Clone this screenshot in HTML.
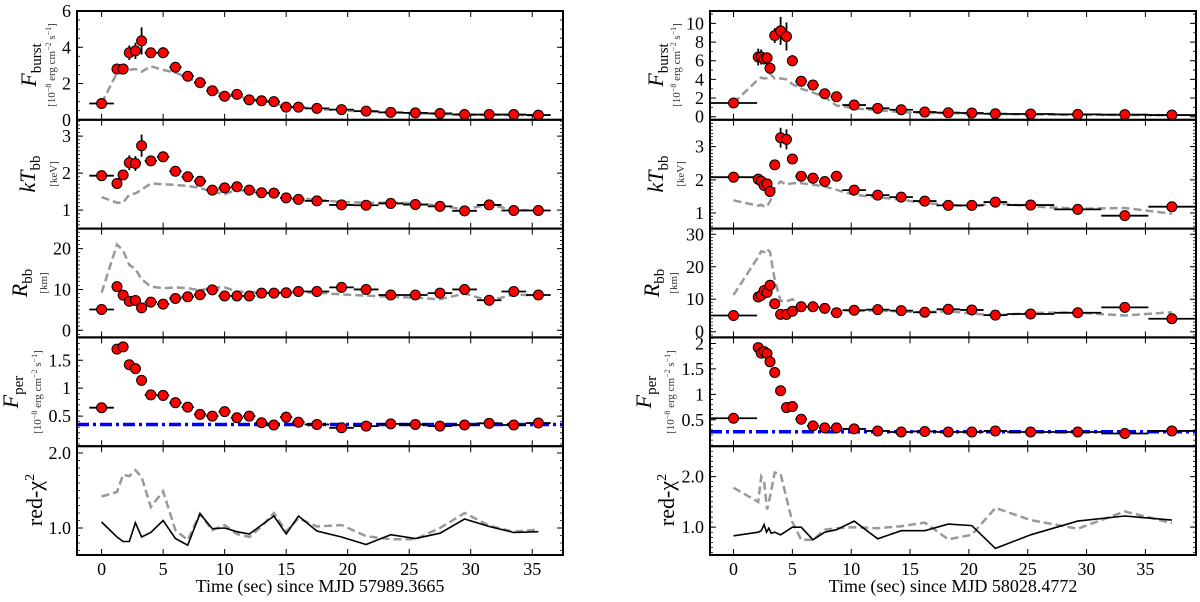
<!DOCTYPE html>
<html><head><meta charset="utf-8">
<style>
html,body{margin:0;padding:0;background:#fff;}
svg{display:block;font-family:"Liberation Serif",serif;}
</style></head>
<body>
<svg id="fig" width="1200" height="602" viewBox="0 0 1200 602" xmlns="http://www.w3.org/2000/svg"></svg>
<script>
// ---------- LEFT burst (MJD 57989.3665) ----------
const leftTime = [0,1.25,1.75,2.25,2.75,3.25,4,5,6,7,8,9,10,11,12,13,14,15,16,17.5,19.5,21.5,23.5,25.5,27.5,29.5,31.5,33.5,35.5];
const leftTimeErr = [1,0.25,0.25,0.25,0.25,0.25,0.5,0.5,0.5,0.5,0.5,0.5,0.5,0.5,0.5,0.5,0.5,0.5,0.5,1,1,1,1,1,1,1,1,1,1];
const leftFburst = [0.9,2.8,2.8,3.7,3.8,4.35,3.7,3.7,2.9,2.4,2.05,1.6,1.3,1.4,1.1,1.05,1.0,0.7,0.7,0.63,0.56,0.48,0.41,0.38,0.35,0.29,0.29,0.29,0.26];
const leftFburstErr = [0.05,0.15,0.15,0.4,0.45,0.75,0.25,0.3,0.15,0.1,0.1,0.08,0.08,0.08,0.07,0.07,0.06,0.05,0.05,0.05,0.05,0.05,0.05,0.05,0.05,0.05,0.05,0.05,0.05];
const leftFburstModel = [0.9,2.6,2.55,2.75,2.8,2.65,2.95,2.75,2.6,2.35,2.0,1.6,1.35,1.3,1.15,1.05,0.95,0.7,0.7,0.6,0.52,0.45,0.4,0.36,0.33,0.28,0.28,0.27,0.25];
const leftKT = [1.93,1.72,1.95,2.28,2.26,2.74,2.33,2.44,2.05,1.9,1.78,1.54,1.6,1.63,1.54,1.47,1.46,1.33,1.29,1.25,1.14,1.13,1.18,1.15,1.1,0.98,1.14,0.99,0.99];
const leftKTErr = [0.08,0.06,0.1,0.2,0.2,0.3,0.1,0.12,0.06,0.05,0.05,0.04,0.04,0.04,0.04,0.04,0.04,0.03,0.03,0.03,0.03,0.03,0.03,0.03,0.03,0.03,0.03,0.03,0.03];
const leftKTModel = [1.35,1.2,1.2,1.42,1.45,1.55,1.72,1.7,1.68,1.65,1.6,1.5,1.43,1.55,1.5,1.47,1.45,1.3,1.32,1.28,1.22,1.2,1.2,1.18,1.12,1.02,1.15,1.0,1.0];
const leftR = [5.1,10.7,8.6,7.1,7.3,5.5,6.9,6.4,7.8,8.2,8.7,9.9,8.4,8.4,8.4,9.1,9.1,9.2,9.5,9.5,10.5,10.0,8.65,8.65,9.1,10.0,7.35,9.5,8.65];
const leftRErr = [0.4,0.6,0.5,0.5,0.5,0.5,0.4,0.4,0.4,0.4,0.4,0.4,0.4,0.4,0.4,0.4,0.4,0.4,0.4,0.4,0.4,0.4,0.4,0.4,0.4,0.4,0.4,0.4,0.4];
const leftRModel = [9.2,21,19.5,16,15,12.5,10.7,10.3,10.5,10.3,9.8,10.5,10.5,9.5,9.4,9.3,9.5,9.8,9.3,9.2,8.8,8.5,8.2,8.0,7.6,9.0,7.2,8.8,8.5];
const leftFper = [0.65,1.70,1.74,1.42,1.35,1.14,0.88,0.87,0.74,0.66,0.53,0.5,0.58,0.47,0.5,0.38,0.34,0.48,0.39,0.35,0.29,0.32,0.36,0.35,0.32,0.34,0.37,0.34,0.375];
const leftFperErr = [0.02,0.07,0.05,0.03,0.03,0.03,0.02,0.02,0.02,0.02,0.02,0.02,0.02,0.02,0.02,0.02,0.02,0.02,0.02,0.02,0.02,0.02,0.02,0.02,0.02,0.02,0.02,0.02,0.02];
const leftPersistent = [0.35];
const leftChi = [1.08,0.88,0.82,0.82,1.07,0.88,0.94,1.10,0.86,0.77,1.19,0.99,1.0,0.95,0.92,1.04,1.16,0.92,1.16,0.96,0.88,0.78,0.91,0.86,0.93,1.12,1.02,0.94,0.95];
const leftChiModel = [1.42,1.48,1.71,1.69,1.77,1.68,1.28,1.49,0.97,0.84,1.19,0.97,1.04,0.92,0.88,1.02,1.2,0.95,1.13,1.02,1.04,0.89,0.85,0.85,1.0,1.2,1.03,0.95,0.98];
// ---------- RIGHT burst (MJD 58028.4772) ----------
const rightTime = [0,2.1,2.35,2.6,2.85,3.1,3.5,4.0,4.5,5.0,5.75,6.75,7.75,8.75,10.25,12.25,14.25,16.25,18.25,20.25,22.25,25.25,29.25,33.25,37.25];
const rightTimeErr = [2,0.125,0.125,0.125,0.125,0.125,0.25,0.25,0.25,0.25,0.5,0.5,0.5,0.5,1,1,1,1,1,1,1,2,2,2,2];
const rightFburst = [1.47,6.4,6.4,6.2,6.3,5.2,8.7,9.2,8.6,6.0,3.8,3.4,2.46,2.14,1.25,0.9,0.75,0.5,0.43,0.4,0.32,0.29,0.25,0.22,0.18];
const rightFburstErr = [0.1,0.9,0.8,0.6,0.6,0.3,0.8,1.5,1.5,0.6,0.2,0.2,0.2,0.15,0.1,0.08,0.06,0.05,0.05,0.05,0.05,0.04,0.04,0.04,0.04];
const rightFburstModel = [1.47,4.0,4.2,4.1,4.15,4.6,4.1,4.1,4.0,3.5,3.0,2.6,2.1,1.2,0.9,0.7,0.5,0.4,0.4,0.35,0.3,0.25,0.2,0.2,0.15];
const rightKT = [2.08,2.02,1.96,1.83,1.88,1.65,2.45,3.27,3.22,2.63,2.11,2.05,1.95,2.11,1.69,1.54,1.48,1.36,1.23,1.23,1.33,1.24,1.11,0.92,1.19];
const rightKTErr = [0.05,0.15,0.15,0.1,0.1,0.08,0.12,0.3,0.3,0.15,0.08,0.06,0.06,0.08,0.05,0.05,0.04,0.04,0.04,0.04,0.04,0.04,0.04,0.04,0.04];
const rightKTModel = [1.38,1.22,1.25,1.2,1.2,1.35,1.75,1.95,1.85,1.9,1.9,1.85,1.8,1.7,1.55,1.48,1.4,1.3,1.25,1.2,1.3,1.2,1.13,1.15,0.98];
const rightR = [5.0,10.7,11.2,12.7,12.1,14.3,8.6,5.35,5.35,6.3,7.7,7.7,7.2,5.85,6.6,6.8,6.5,6.0,6.9,6.7,5.1,5.45,5.85,7.5,4.0];
const rightRErr = [0.4,0.7,0.7,0.6,0.6,0.6,0.5,0.4,0.4,0.4,0.4,0.4,0.4,0.4,0.4,0.4,0.4,0.4,0.4,0.4,0.4,0.4,0.4,0.4,0.4];
const rightRModel = [11.3,23,24.8,24.5,25.5,24.5,16,9.5,9.3,10,8.2,8,7.5,6.8,6.4,6.6,6.2,6.0,6.3,5.6,5.0,5.8,5.9,5.0,6.0];
const rightFper = [0.53,1.92,1.81,1.84,1.80,1.64,1.43,1.07,0.74,0.76,0.51,0.38,0.34,0.34,0.32,0.28,0.26,0.27,0.26,0.26,0.28,0.26,0.26,0.23,0.28];
const rightFperErr = [0.02,0.08,0.07,0.07,0.07,0.05,0.03,0.03,0.02,0.02,0.02,0.02,0.02,0.02,0.02,0.02,0.02,0.02,0.02,0.02,0.02,0.02,0.02,0.02,0.02];
const rightPersistent = [0.265];
const rightChiTime = [0,2.1,2.35,2.6,2.8,3.0,3.2,3.5,4.0,5.0,5.75,6.75,7.75,8.75,10.25,12.25,14.25,16.25,18.25,20.25,22.25,25.25,29.25,33.25,37.25];
const rightChi = [0.83,0.9,0.93,1.05,0.9,0.98,0.88,0.9,0.85,1.0,1.0,0.75,0.9,0.95,1.12,0.77,0.93,0.93,1.06,1.03,0.58,0.85,1.12,1.22,1.14];
const rightChiModelTime = [0,2.1,2.35,2.6,2.85,3.1,3.5,4.0,5.0,5.75,6.75,7.75,8.75,10.25,12.25,14.25,16.25,18.25,20.25,22.25,25.25,29.25,33.25,37.25];
const rightChiModel = [1.78,1.5,2.0,1.9,1.35,1.6,2.08,2.05,1.1,0.75,0.75,0.95,0.98,1.0,0.98,1.02,1.09,0.76,0.85,1.38,1.14,0.97,1.31,1.08];
// tick labels
const xTickVals = [0,5,10,15,20,25,30,35];
const leftYTicks = [[0,2,4,6],[1,2,3],[0,10,20],[0.5,1,1.5],[1.0,2.0]];
const rightYTicks = [[0,2,4,6,8,10],[1,2,3],[0,10,20,30],[0.5,1,1.5,2],[1.0,2.0]];

const NS="http://www.w3.org/2000/svg";
const svg=document.getElementById('fig');
function mk(tag,attrs,parent){const e=document.createElementNS(NS,tag);for(const k in attrs)e.setAttribute(k,attrs[k]);(parent||svg).appendChild(e);return e;}
const rowTops=[11,119.8,228.6,337.4,446.2,555];

function fmt(v,dec){return dec?v.toFixed(1):String(v);}

function drawColumn(side,x0,x1,xlim,ylims,yTicks,minors,series,xlabel){
  const g=mk('g',{});
  
  
  const sx=v=>x0+(v-xlim[0])/(xlim[1]-xlim[0])*(x1-x0);
  for(let p=0;p<5;p++){
    const yt=rowTops[p],yb=rowTops[p+1],yl=ylims[p];
    const sy=v=>yb-(v-yl[0])/(yl[1]-yl[0])*(yb-yt);
    const pg=mk('g',{},g);
    
    
    const s=series[p];
    // persistent line
    if(s.pers){const l=mk('line',{x1:x0,x2:x1,y1:sy(s.pers[0]),y2:sy(s.pers[0]),stroke:'#0000ff','stroke-width':3.5,'stroke-dasharray':'12,4,3,4'},pg);
      }
    // model dashed
    if(s.model){const mt=s.mt||s.t;const pts=s.model.map((v,i)=>sx(mt[i]).toFixed(1)+','+sy(v).toFixed(1)).join(' ');
      const pl=mk('polyline',{points:pts,fill:'none',stroke:'#999','stroke-width':2.5,'stroke-dasharray':'8,4'},pg);
      }
    if(s.line){const lt=s.lt||s.t;const pts=s.line.map((v,i)=>sx(lt[i]).toFixed(1)+','+sy(v).toFixed(1)).join(' ');
      const pl=mk('polyline',{points:pts,fill:'none',stroke:'#000','stroke-width':1.6},pg);
      }
    if(s.y){
      s.y.forEach((v,i)=>{
        const cx=sx(s.t[i]),cy=sy(v);
        const eb=mk('path',{d:`M${sx(s.t[i]-s.te[i])},${cy}H${sx(s.t[i]+s.te[i])}M${cx},${sy(v-s.ye[i])}V${sy(v+s.ye[i])}`,stroke:'#000','stroke-width':1.8,fill:'none'},pg);
        
        const c=mk('circle',{cx:cx,cy:cy,r:5,fill:'#ff0000',stroke:'#000','stroke-width':1},pg);
        
      });
    }
    // frame
    const fr=mk('rect',{x:x0,y:yt,width:x1-x0,height:yb-yt,fill:'none',stroke:'#000','stroke-width':2},pg);
    
    // x ticks
    xTickVals.forEach(v=>{const X=sx(v);mk('path',{d:`M${X},${yb}v-6M${X},${yt}v6`,stroke:'#000','stroke-width':1},pg);});
    // minor y ticks
    const ms=minors[p];
    for(let v=Math.ceil(yl[0]/ms)*ms;v<=yl[1];v+=ms){const Y=sy(v);mk('path',{d:`M${x0},${Y}h3M${x1},${Y}h-3`,stroke:'#000','stroke-width':0.8},pg);}
    yTicks[p].forEach(v=>{const Y=sy(v);mk('path',{d:`M${x0},${Y}h6M${x1},${Y}h-6`,stroke:'#000','stroke-width':1},pg);
      const t=mk('text',{x:x0-6,y:Y+6,'text-anchor':'end','font-size':18,fill:'#000'},pg);
      
      t.textContent=fmt(v,p===4);});
  }
  xTickVals.forEach(v=>{const t=mk('text',{x:sx(v),y:575,'text-anchor':'middle','font-size':18},g);
    t.textContent=v;});
  const xl=mk('text',{x:(x0+x1)/2,y:592,'text-anchor':'middle','font-size':18},g);
  xl.textContent=xlabel;
}

function ylabel(x,y,main,sub,unit,ux,name){
  const g=mk('g',{});
  
  const t=mk('text',{x:x,y:y,'text-anchor':'middle','font-size':22,transform:`rotate(-90 ${x} ${y})`},g);
  t.innerHTML=main+(sub?`<tspan font-size="15" dy="5">${sub}</tspan>`:'');
  if(unit){const u=mk('text',{x:ux,y:y,'text-anchor':'middle','font-size':11,fill:'#333',transform:`rotate(-90 ${ux} ${y})`},g);u.innerHTML=unit;}
}

drawColumn('left',77,563,[-2,37.5],[[0,6],[0.5,3.44],[-1.74,24.9],[-0.04,1.91],[0.64,2.09]],leftYTicks,[0.5,0.1,1,0.1,0.1],[
  {t:leftTime,te:leftTimeErr,y:leftFburst,ye:leftFburstErr,model:leftFburstModel},
  {t:leftTime,te:leftTimeErr,y:leftKT,ye:leftKTErr,model:leftKTModel},
  {t:leftTime,te:leftTimeErr,y:leftR,ye:leftRErr,model:leftRModel},
  {t:leftTime,te:leftTimeErr,y:leftFper,ye:leftFperErr,pers:leftPersistent},
  {t:leftTime,line:leftChi,model:leftChiModel}
],'Time (sec) since MJD 57989.3665');
drawColumn('right',710,1196,[-2,39.3],[[-0.33,11.33],[0.53,3.81],[-1.75,31.75],[-0.02,2.12],[0.45,2.6]],rightYTicks,[1,0.1,1,0.1,0.1],[
  {t:rightTime,te:rightTimeErr,y:rightFburst,ye:rightFburstErr,model:rightFburstModel},
  {t:rightTime,te:rightTimeErr,y:rightKT,ye:rightKTErr,model:rightKTModel},
  {t:rightTime,te:rightTimeErr,y:rightR,ye:rightRErr,model:rightRModel},
  {t:rightTime,te:rightTimeErr,y:rightFper,ye:rightFperErr,pers:rightPersistent},
  {lt:rightChiTime,line:rightChi,mt:rightChiModelTime,model:rightChiModel}
],'Time (sec) since MJD 58028.4772');

const fluxUnit='[10<tspan font-size="8" dy="-4">−8</tspan><tspan dy="4"> erg cm</tspan><tspan font-size="8" dy="-4">−2</tspan><tspan dy="4"> s</tspan><tspan font-size="8" dy="-4">−1</tspan><tspan dy="4">]</tspan>';
ylabel(36,65,'<tspan font-style="italic">F</tspan>','burst',fluxUnit,55,'left-fburst-label');
ylabel(35,174,'<tspan font-style="italic">kT</tspan>','bb','[keV]',57,'left-kt-label');
ylabel(27,283,'<tspan font-style="italic">R</tspan>','bb','[km]',47,'left-r-label');
ylabel(18,392,'<tspan font-style="italic">F</tspan>','per',fluxUnit,41,'left-fper-label');
ylabel(42,500,'red-χ<tspan font-size="14" dy="-8">2</tspan>',null,null,0,'left-chi2-label');
ylabel(663,65,'<tspan font-style="italic">F</tspan>','burst',fluxUnit,680,'right-fburst-label');
ylabel(663,174,'<tspan font-style="italic">kT</tspan>','bb','[keV]',684,'right-kt-label');
ylabel(659,283,'<tspan font-style="italic">R</tspan>','bb','[km]',677,'right-r-label');
ylabel(651,392,'<tspan font-style="italic">F</tspan>','per',fluxUnit,674,'right-fper-label');
ylabel(674,500,'red-χ<tspan font-size="14" dy="-8">2</tspan>',null,null,0,'right-chi2-label');
</script>
</body></html>
